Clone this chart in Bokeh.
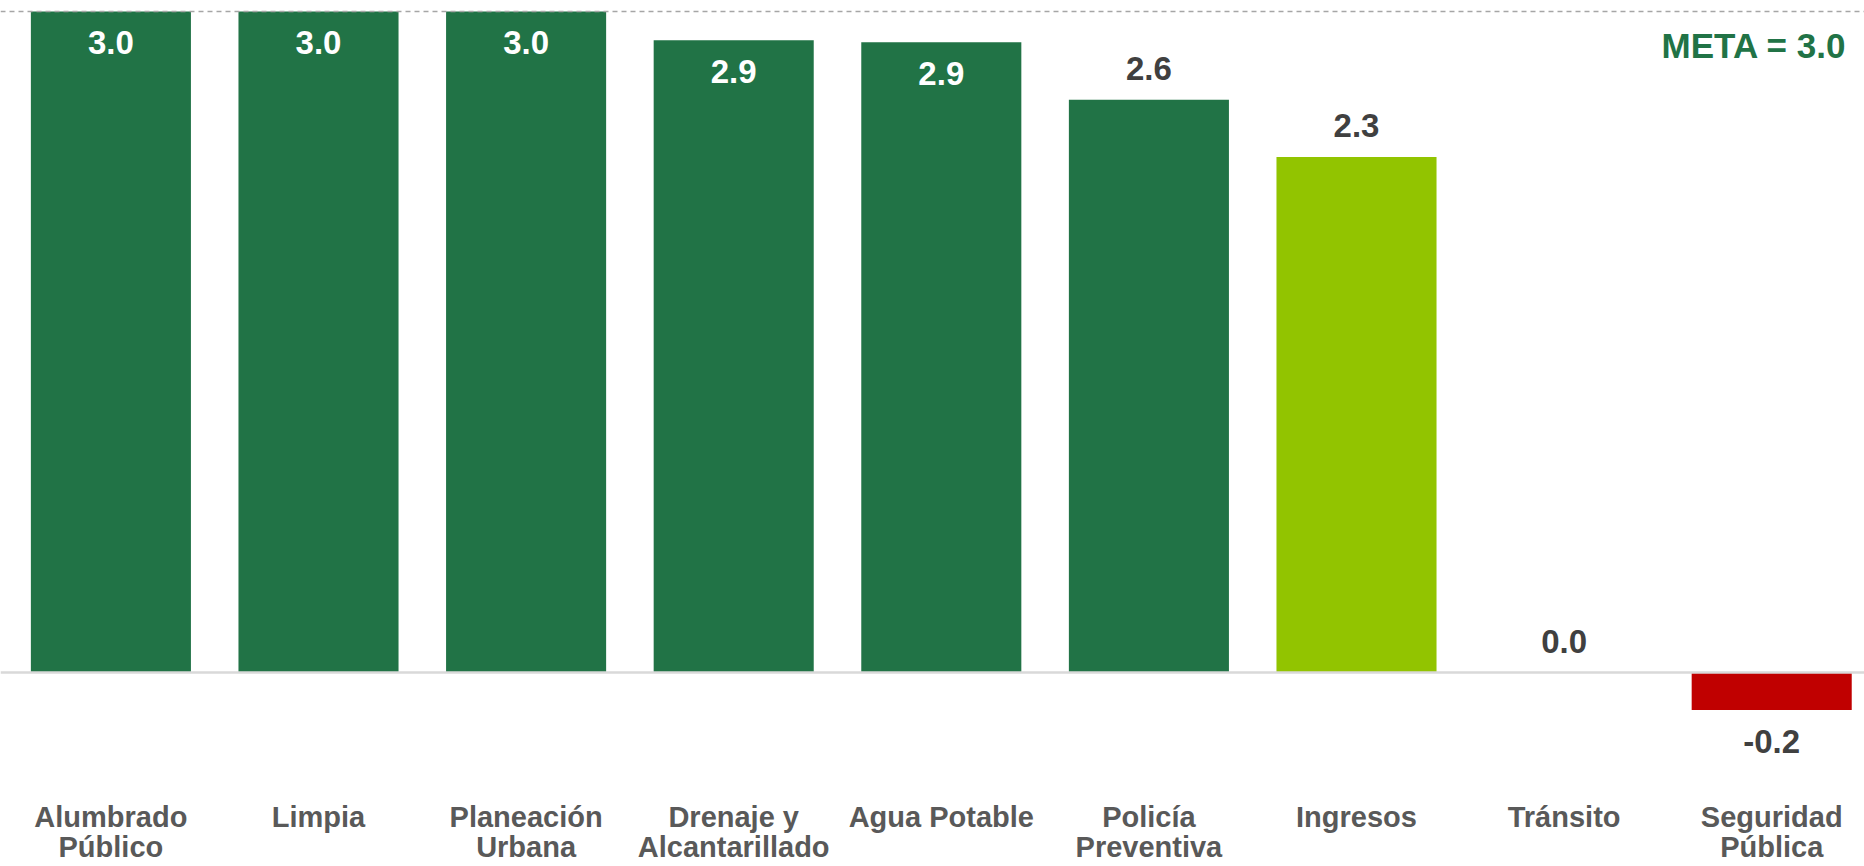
from bokeh.plotting import figure
from bokeh.models import Range1d, Span, ColumnDataSource
from bokeh.core.properties import value
from bokeh.embed import file_html
from bokeh.resources import INLINE

# ---- data ----
categories = ["Alumbrado\nPúblico", "Limpia", "Planeación\nUrbana", "Drenaje y\nAlcantarillado",
              "Agua Potable", "Policía\nPreventiva", "Ingresos", "Tránsito", "Seguridad\nPública"]
values = [3.0, 3.0, 3.0, 2.87, 2.86, 2.6, 2.34, 0.0, -0.17]
meta = 3.0
meta_label = "META = 3.0"

# ---- styling helpers ----
DARK_GREEN = "#217346"
LIME = "#92C400"
RED = "#C00000"
FONT = value("Liberation Sans")

def bar_color(v):
    if v < 0:
        return RED
    if v >= 2.5:
        return DARK_GREEN
    return LIME

xs = list(range(len(categories)))
colors = [bar_color(v) for v in values]
labels = [f"{v:.1f}" for v in values]

src = ColumnDataSource(dict(x=xs, top=values, color=colors, label=labels, cat=categories))

W, H = 1864, 866
p = figure(width=W, height=H, x_range=Range1d(-0.5318, 8.447), y_range=Range1d(-0.8805, 3.0499),
           output_backend="svg", toolbar_location=None, min_border=0,
           background_fill_color="white", border_fill_color="white")
p.axis.visible = False
p.grid.visible = False
p.outline_line_color = None

p.vbar(x="x", top="top", bottom=0, width=0.771, color="color", line_color=None, source=src)

# baseline and goal line
p.add_layout(Span(location=0, dimension="width", line_color="#D9D9D9", line_width=2.5))
p.add_layout(Span(location=meta, dimension="width", line_color="#A6A6A6", line_width=1.5,
                  line_dash="5 4"))

# value labels
inside = [i for i, v in enumerate(values) if v > 2.8]
above = [i for i, v in enumerate(values) if 0 <= v <= 2.8]
below = [i for i, v in enumerate(values) if v < 0]

def sub(idx):
    return ColumnDataSource(dict(x=[xs[i] for i in idx], y=[values[i] for i in idx],
                                 label=[labels[i] for i in idx]))

common = dict(text_align="center", text_baseline="middle", text_font=FONT,
              text_font_style="bold", text_font_size="33px")
p.text(x="x", y="y", text="label", source=sub(inside), y_offset=31, text_color="white", **common)
p.text(x="x", y="y", text="label", source=sub(above), y_offset=-31, text_color="#404040", **common)
p.text(x="x", y="y", text="label", source=sub(below), y_offset=32, text_color="#404040", **common)

# category labels
p.text(x="x", y=0, text="cat", source=src, y_offset=129, text_align="center",
       text_baseline="top", text_font=FONT, text_font_style="bold", text_font_size="29px",
       text_color="#595959", text_line_height=0.93)

# meta label
p.text(x=[xs[-1]], y=[meta], text=[meta_label], x_offset=75, y_offset=34, text_align="right",
       text_baseline="middle", text_font=FONT, text_font_style="bold", text_font_size="35px",
       text_color=DARK_GREEN)

open("out.html", "w").write(file_html(p, INLINE))
